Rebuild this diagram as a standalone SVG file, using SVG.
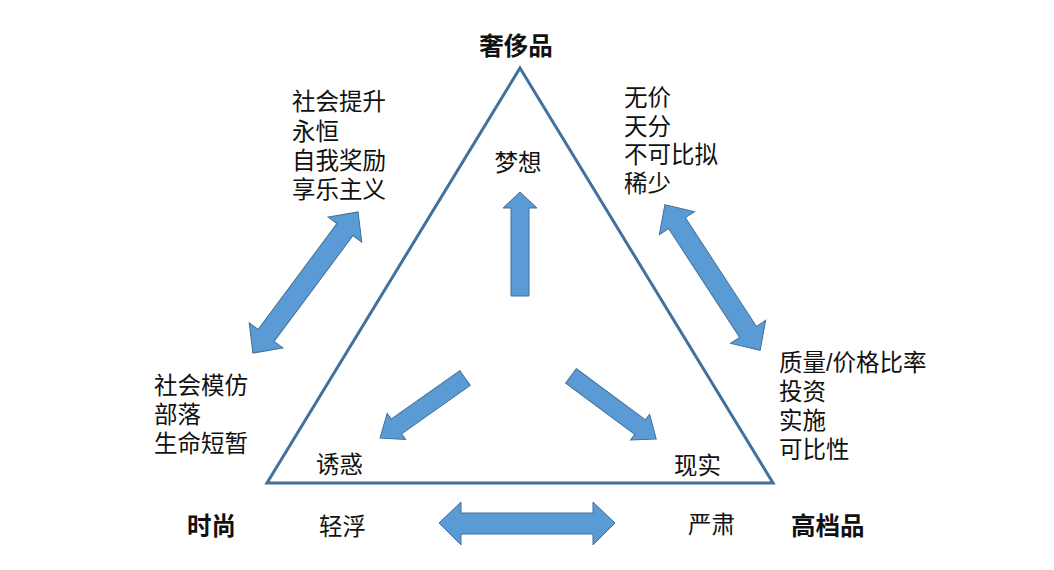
<svg xmlns="http://www.w3.org/2000/svg" width="1054" height="570" viewBox="0 0 1054 570">
<style>
text{font-family:"Liberation Sans","Noto Sans CJK SC",sans-serif;fill:#111;}
.t{font-size:23.5px;}
.b{font-size:24.5px;font-weight:bold;}
.arr{fill:#5B9BD5;stroke:#41719C;stroke-width:1;stroke-linejoin:miter;}
.tri{fill:none;stroke:#41719C;stroke-width:3;stroke-linejoin:miter;}
</style>
<rect width="1054" height="570" fill="#fff"/>
<g id="triangle">
<polygon class="tri" points="520,68 773,483 267,483"/>
</g>
<g id="connectors">
<polygon class="arr" points="511,296 511,208 503,208 520,192 537,208 529,208 529,296"/>
<polygon class="arr" points="439,523 461,502 461,513 593,513 593,502 615,523 593,545 593,534 461,534 461,545"/>
<polygon class="arr" transform="translate(465,378) rotate(144.78)" points="0,-9 84,-9 84,-16 104,0 84,16 84,9 0,9"/>
<polygon class="arr" transform="translate(571,376) rotate(36.5)" points="0,-9 86,-9 86,-16 106,0 86,16 86,9 0,9"/>
<polygon class="arr" transform="translate(305.5,282.5) rotate(126.7)" points="-88,0 -66,-21 -66,-10 66,-10 66,-21 88,0 66,21 66,10 -66,10 -66,21"/>
<polygon class="arr" transform="translate(712.5,277.5) rotate(56.8)" points="-87,0 -65,-21 -65,-10 65,-10 65,-21 87,0 65,21 65,10 -65,10 -65,21"/>
</g>
<g id="luxury">
<text class="b" x="516" y="55" text-anchor="middle">奢侈品</text>
</g>
<g id="fashion">
<text class="b" x="187" y="535">时尚</text>
</g>
<g id="premium">
<text class="b" x="791" y="535">高档品</text>
</g>
<g id="dream">
<text class="t" x="518" y="171" text-anchor="middle">梦想</text>
</g>
<g id="temptation">
<text class="t" x="316" y="473">诱惑</text>
</g>
<g id="reality">
<text class="t" x="674" y="474">现实</text>
</g>
<g id="frivolous">
<text class="t" x="319" y="535">轻浮</text>
</g>
<g id="serious">
<text class="t" x="688" y="533">严肃</text>
</g>
<g id="left-top-list">
<text class="t" x="292" y="110">社会提升</text>
<text class="t" x="292" y="139.5">永恒</text>
<text class="t" x="292" y="169">自我奖励</text>
<text class="t" x="292" y="198">享乐主义</text>
</g>
<g id="right-top-list">
<text class="t" x="624" y="106">无价</text>
<text class="t" x="624" y="134.5">天分</text>
<text class="t" x="624" y="163">不可比拟</text>
<text class="t" x="624" y="192">稀少</text>
</g>
<g id="left-bottom-list">
<text class="t" x="154" y="394">社会模仿</text>
<text class="t" x="154" y="423">部落</text>
<text class="t" x="154" y="452">生命短暂</text>
</g>
<g id="right-bottom-list">
<text class="t" x="779" y="371">质量/价格比率</text>
<text class="t" x="779" y="400">投资</text>
<text class="t" x="779" y="429">实施</text>
<text class="t" x="779" y="458">可比性</text>
</g>
</svg>
